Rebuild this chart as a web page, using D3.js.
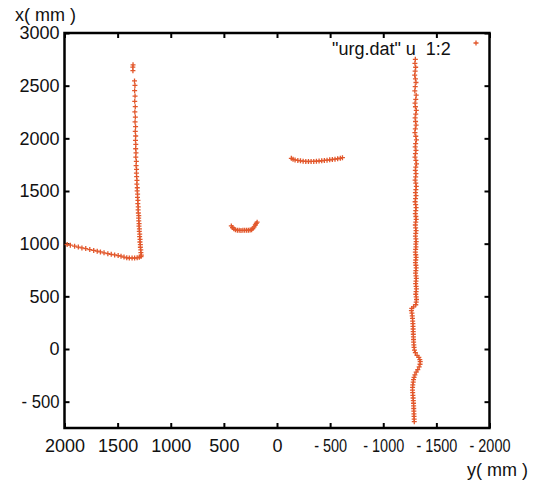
<!DOCTYPE html>
<html>
<head>
<meta charset="utf-8">
<script src="https://cdn.jsdelivr.net/npm/d3@7"></script>
<style>
body { margin: 0; background: #fff; }
svg text { font-family: "Liberation Sans", Arial, sans-serif; fill: #111; }
</style>
</head>
<body>
<svg id="chart" width="533" height="482"></svg>
<script>
"use strict";

// tick values
var yTicks = [2000, 1500, 1000, 500, 0, -500, -1000, -1500, -2000];
var xTicks = [-500, 0, 500, 1000, 1500, 2000, 2500, 3000];

// scan points, [y(mm), x(mm)]
var floorLeft = [[1975, 992], [1945, 986], [1905, 976], [1870, 968], [1836, 960], [1800, 953],
  [1762, 944], [1725, 936], [1692, 929], [1662, 922], [1628, 913], [1592, 905], [1560, 899],
  [1528, 893], [1495, 887], [1468, 881], [1440, 873], [1414, 866], [1390, 864], [1364, 863],
  [1340, 864], [1316, 866], [1296, 870], [1280, 877]];

var wallLeft = [[1277, 892], [1281, 915], [1282, 941], [1286, 966], [1286, 990], [1290, 1016],
  [1289, 1041], [1293, 1066], [1292, 1091], [1296, 1116], [1295, 1140], [1299, 1166],
  [1298, 1191], [1301, 1216], [1302, 1242], [1301, 1266], [1305, 1291], [1307, 1321],
  [1306, 1350], [1310, 1381], [1309, 1411], [1313, 1440], [1312, 1471], [1316, 1502],
  [1315, 1531], [1319, 1566], [1318, 1600], [1321, 1636], [1323, 1670], [1322, 1706],
  [1326, 1741], [1324, 1782], [1329, 1822], [1327, 1862], [1330, 1901], [1329, 1942],
  [1332, 1981], [1330, 2022], [1334, 2066], [1331, 2111], [1336, 2156], [1333, 2202],
  [1338, 2251], [1334, 2301], [1339, 2351], [1336, 2401], [1340, 2452], [1337, 2502],
  [1341, 2545], [1356, 2642], [1357, 2676], [1355, 2698]];

var cupShape = [[430, 1168], [419, 1153], [406, 1141], [391, 1132], [373, 1128], [356, 1127],
  [339, 1126], [321, 1127], [304, 1127], [286, 1128], [269, 1128], [253, 1129], [239, 1133],
  [227, 1144], [215, 1160], [204, 1177], [195, 1192], [187, 1204]];

var ledge = [[-135, 1810], [-151, 1801], [-170, 1795], [-196, 1790], [-221, 1786], [-246, 1783],
  [-271, 1781], [-296, 1780], [-321, 1781], [-346, 1781], [-371, 1783], [-396, 1785],
  [-421, 1787], [-446, 1790], [-471, 1793], [-496, 1796], [-521, 1799], [-546, 1802],
  [-571, 1806], [-596, 1811], [-616, 1816]];

var wallRight = [[-1302, 2750], [-1298, 2712], [-1305, 2675], [-1300, 2638], [-1296, 2600],
  [-1303, 2565], [-1308, 2530], [-1301, 2490], [-1297, 2450], [-1310, 2410], [-1306, 2370],
  [-1299, 2335], [-1303, 2300], [-1311, 2265], [-1306, 2230], [-1300, 2195], [-1304, 2160],
  [-1309, 2125], [-1302, 2090], [-1298, 2055], [-1306, 2020], [-1312, 1985], [-1305, 1950],
  [-1301, 1918], [-1308, 1886], [-1303, 1854], [-1299, 1822], [-1307, 1790], [-1313, 1758],
  [-1306, 1727], [-1302, 1696], [-1308, 1665], [-1305, 1634], [-1300, 1604], [-1306, 1574],
  [-1311, 1544], [-1307, 1514], [-1303, 1485], [-1308, 1456], [-1304, 1427], [-1300, 1398],
  [-1305, 1370], [-1309, 1342], [-1306, 1314], [-1302, 1286], [-1307, 1258], [-1310, 1231],
  [-1306, 1204], [-1302, 1177], [-1305, 1150], [-1309, 1124], [-1306, 1098], [-1303, 1072],
  [-1307, 1046], [-1310, 1020], [-1306, 995], [-1308, 970], [-1305, 945], [-1302, 920],
  [-1306, 895], [-1309, 870], [-1306, 845], [-1303, 820], [-1307, 795], [-1310, 770],
  [-1307, 745], [-1304, 720], [-1308, 695], [-1311, 670], [-1308, 645], [-1305, 620],
  [-1309, 595], [-1312, 570], [-1309, 545], [-1306, 520], [-1310, 495], [-1313, 470],
  [-1310, 445], [-1306, 420], [-1285, 400], [-1268, 385], [-1265, 365], [-1270, 340],
  [-1273, 315], [-1275, 290], [-1277, 265], [-1279, 240], [-1280, 215], [-1281, 190],
  [-1282, 165], [-1283, 140], [-1284, 115], [-1285, 90], [-1286, 65], [-1288, 40],
  [-1290, 15], [-1294, -10], [-1302, -35], [-1318, -60], [-1335, -80], [-1344, -100],
  [-1348, -120], [-1346, -145], [-1338, -170], [-1325, -195], [-1310, -220], [-1298, -245],
  [-1290, -270], [-1285, -290], [-1282, -315], [-1278, -340], [-1276, -365], [-1275, -390],
  [-1277, -415], [-1279, -440], [-1281, -465], [-1283, -490], [-1285, -515], [-1286, -540],
  [-1287, -565], [-1288, -590], [-1289, -615], [-1290, -640], [-1291, -665], [-1292, -690]];

var keyLabel = "\"urg.dat\" u  1:2";

var scan = floorLeft.concat(wallLeft, cupShape, ledge, wallRight);

var plotLeft = 64.5, plotRight = 489.5, plotTop = 33, plotBottom = 428;
var pointColor = "#e2572b";

var xScale = d3.scaleLinear()
               .domain([2000, -2000])
               .range([plotLeft, plotRight]);

var yScale = d3.scaleLinear()
               .domain([-750, 3000])
               .range([plotBottom, plotTop]);

var fmt = function(d) { return d < 0 ? "- " + (-d) : String(d); };

var svg = d3.select("#chart");

// ticks on all four sides, pointing inward
var xAxis = d3.axisBottom(xScale).tickValues(yTicks).tickSize(-5).tickSizeOuter(0)
              .tickPadding(11).tickFormat(fmt);
var xAxisTop = d3.axisTop(xScale).tickValues(yTicks).tickSize(-5).tickSizeOuter(0)
                 .tickFormat("");
var yAxis = d3.axisLeft(yScale).tickValues(xTicks).tickSize(-5).tickSizeOuter(0)
              .tickPadding(5).tickFormat(fmt);
var yAxisRight = d3.axisRight(yScale).tickValues(xTicks).tickSize(-5).tickSizeOuter(0)
                   .tickFormat("");

var gx = svg.append("g").attr("transform", "translate(0," + plotBottom + ")").call(xAxis);
svg.append("g").attr("transform", "translate(0," + plotTop + ")").call(xAxisTop);
var gy = svg.append("g").attr("transform", "translate(" + plotLeft + ",0)").call(yAxis);
svg.append("g").attr("transform", "translate(" + plotRight + ",0)").call(yAxisRight);

svg.selectAll(".domain").remove();
svg.selectAll(".tick line").attr("stroke", "#000").attr("stroke-width", 2);
svg.selectAll(".tick text").attr("font-size", 18).attr("fill", "#111")
   .style("font-family", "Liberation Sans, Arial, sans-serif");

// negative labels are squeezed in the original
gx.selectAll(".tick text").filter(function(d) { return d < 0; })
  .attr("textLength", function(d) { return d === -500 ? 33 : 41; })
  .attr("lengthAdjust", "spacingAndGlyphs");
gy.selectAll(".tick text").filter(function(d) { return d < 0; })
  .attr("textLength", 38)
  .attr("lengthAdjust", "spacingAndGlyphs");

// frame
svg.append("rect")
   .attr("x", plotLeft)
   .attr("y", plotTop)
   .attr("width", plotRight - plotLeft)
   .attr("height", plotBottom - plotTop)
   .attr("fill", "none")
   .attr("stroke", "#000")
   .attr("stroke-width", 2.5);

// points
var plus = "M-2.5,0H2.5M0,-2.5V2.5";

svg.append("g")
   .selectAll("path")
   .data(scan)
   .enter()
   .append("path")
   .attr("transform", function(d) {
      return "translate(" + xScale(d[0]) + "," + yScale(d[1]) + ")";
   })
   .attr("d", plus)
   .attr("fill", "none")
   .attr("stroke", pointColor)
   .attr("stroke-width", 1.3);

// key
svg.append("text")
   .attr("x", 332)
   .attr("y", 55)
   .attr("font-size", 18)
   .attr("xml:space", "preserve")
   .text(keyLabel);

svg.append("path")
   .attr("transform", "translate(476,43)")
   .attr("d", plus)
   .attr("fill", "none")
   .attr("stroke", pointColor)
   .attr("stroke-width", 1.3);

// axis titles
svg.append("text")
   .attr("x", 15)
   .attr("y", 21)
   .attr("font-size", 18)
   .attr("xml:space", "preserve")
   .text("x( mm )");

svg.append("text")
   .attr("x", 528)
   .attr("y", 476)
   .attr("text-anchor", "end")
   .attr("font-size", 18)
   .attr("xml:space", "preserve")
   .text("y( mm )");
</script>
</body>
</html>
